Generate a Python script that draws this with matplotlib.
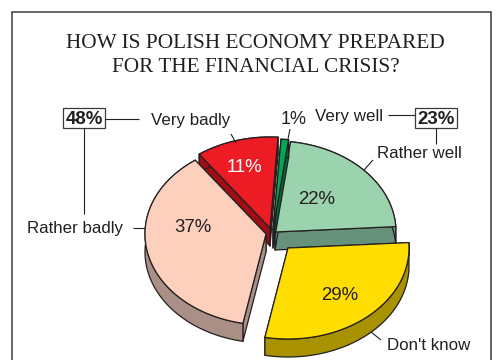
import numpy as np
import matplotlib
matplotlib.use("Agg")
import matplotlib.pyplot as plt
from matplotlib.patches import Polygon, Rectangle

# Survey shares, in drawing order (counter-clockwise from the right-hand edge)
categories = ["Rather well", "Very well", "Very badly", "Rather badly", "Don't know"]
shares = [22, 1, 11, 37, 29]
top_colors = ["#9bd3ae", "#00a651", "#ed1c24", "#fdcfbd", "#ffdd00"]
side_colors = ["#66917a", "#00693a", "#a00d12", "#a98f85", "#a89200"]
label_colors = ["#231f20", None, "#ffffff", "#231f20", "#231f20"]

INK = "#231f20"
RX, RY, DEPTH = 121, 91, 18
START_ANGLE = 3.4
# Apex of every slice after exploding it, in canvas pixels
apexes = [(275, 232), (273, 230), (270, 228), (266, 234), (288, 248)]
pct_pos = [(317, 199), None, (244, 168), (193, 228), (340, 296)]

fig = plt.figure(figsize=(4.96, 3.6), dpi=100)
ax = fig.add_axes([0, 0, 1, 1])
ax.set_xlim(0, 496)
ax.set_ylim(360, 0)
ax.axis("off")

SANS = "Liberation Sans"
SERIF = "Liberation Serif"
LABEL_SIZE = 12.2
PCT_SIZE = 13.4


def rim(apex, a0, a1):
    t = np.radians(np.linspace(a0, a1, 120))
    return np.column_stack([apex[0] + RX * np.cos(t), apex[1] - RY * np.sin(t)])


def draw_slice(apex, a0, a1, top, side):
    arc = rim(apex, a0, a1)
    down = np.array([0, DEPTH])
    ap = np.array(apex, dtype=float)
    faces = [
        np.vstack([ap, arc[0], arc[0] + down, ap + down]),
        np.vstack([ap, arc[-1], arc[-1] + down, ap + down]),
        np.vstack([arc, (arc + down)[::-1]]),
    ]
    for f in faces:
        ax.add_patch(Polygon(f, closed=True, fc=side, ec=INK, lw=0.9, joinstyle="round"))
    ax.add_patch(Polygon(np.vstack([ap, arc]), closed=True, fc=top, ec=INK, lw=0.9,
                         joinstyle="round"))


# Outer frame, open below the canvas edge
ax.add_patch(Rectangle((12, 12), 479, 360, fc="white", ec="#3a3a3a", lw=1.1))

# Title
ax.text(255.5, 43, "HOW IS POLISH ECONOMY PREPARED", family=SERIF, fontsize=15.3,
        color=INK, ha="center", va="center")
ax.text(255.5, 67, "FOR THE FINANCIAL CRISIS?", family=SERIF, fontsize=15.3,
        color=INK, ha="center", va="center")

# Slices, back to front
angles = START_ANGLE + np.concatenate([[0], np.cumsum(shares)]) * 3.6
for i in range(len(shares)):
    draw_slice(apexes[i], angles[i], angles[i + 1], top_colors[i], side_colors[i])

# Percentages on the slices
for share, pos, col in zip(shares, pct_pos, label_colors):
    if pos is not None:
        ax.text(pos[0], pos[1], f"{share}%", family=SANS, fontsize=PCT_SIZE, color=col,
                ha="center", va="center")


def leader(xs, ys):
    ax.plot(xs, ys, color=INK, lw=0.8, solid_capstyle="butt")


def tag(x, y, text, size=LABEL_SIZE):
    ax.text(x, y + 1, text, family=SANS, fontsize=size, color=INK, ha="left", va="center")


def boxed(x0, y0, x1, y1, text):
    ax.add_patch(Rectangle((x0, y0), x1 - x0, y1 - y0, fc="white", ec="#3a3a3a", lw=0.9))
    ax.text((x0 + x1) / 2, (y0 + y1) / 2 + 1, text, family=SANS, fontsize=PCT_SIZE,
            weight="bold", color=INK, ha="center", va="center")


# Category names and their leaders
tag(151, 119, categories[2])
leader([231, 236], [134, 143])
tag(281, 118, f"{shares[1]}%", size=13)
leader([290, 288], [129, 139])
tag(315, 115, categories[1])
tag(377, 152, categories[0])
leader([373, 364], [160, 170])
tag(27, 228, categories[3])
leader([133, 145], [228, 228])
tag(387, 345, categories[4])
leader([381, 371], [340, 332])

# Group totals
boxed(63, 108, 105, 128, "48%")
leader([105, 139], [119, 119])
leader([84, 84], [128, 214])

boxed(415, 108, 457, 128, "23%")
leader([388, 415], [115, 115])
leader([436, 436], [128, 144])

fig.savefig("out.png", dpi=100)
